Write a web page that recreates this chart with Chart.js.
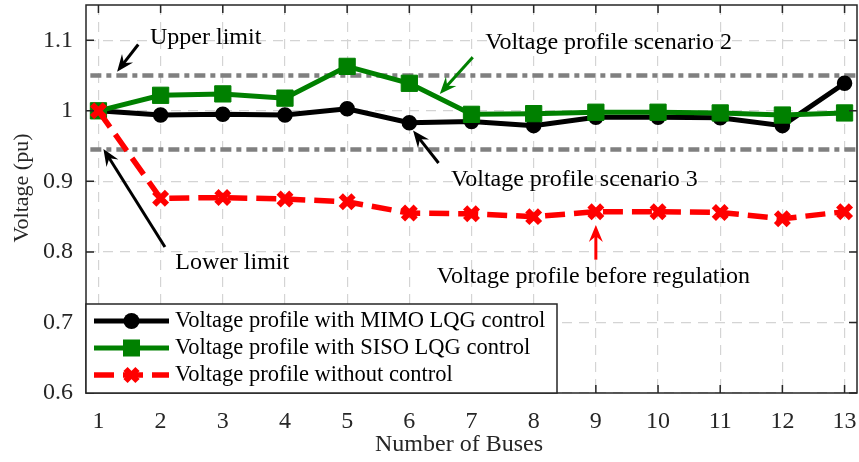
<!DOCTYPE html>
<html>
<head>
<meta charset="utf-8">
<script src="https://cdn.jsdelivr.net/npm/chart.js@4"></script>
<style>
html, body { margin: 0; padding: 0; background: #fff; }
#wrap { width: 859px; height: 462px; position: relative; }
</style>
</head>
<body>
<div id="wrap"><canvas id="line-chart"></canvas></div>
<script>
// values
var buses = [1, 2, 3, 4, 5, 6, 7, 8, 9, 10, 11, 12, 13];
var mimo = [1.0, 0.994, 0.995, 0.994, 1.003, 0.983, 0.985, 0.979, 0.991, 0.991, 0.990, 0.979, 1.039];
var siso = [1.0, 1.022, 1.024, 1.018, 1.063, 1.039, 0.995, 0.996, 0.998, 0.998, 0.997, 0.994, 0.997];
var noControl = [1.0, 0.876, 0.877, 0.875, 0.871, 0.855, 0.854, 0.850, 0.857, 0.857, 0.856, 0.847, 0.857];
var limitBuses = [0.87, 13.2];
var upperLimit = [1.05, 1.05];
var lowerLimit = [0.945, 0.945];

var xTicks = [1, 2, 3, 4, 5, 6, 7, 8, 9, 10, 11, 12, 13];
var yTicks = [0.6, 0.7, 0.8, 0.9, 1, 1.1];
var yTickLabels = ['0.6', '0.7', '0.8', '0.9', '1', '1.1'];

var legendNames = ['Voltage profile with MIMO LQG control', 'Voltage profile with SISO LQG control', 'Voltage profile without control'];

// text notes with arrows, in data units
var notes = [
    {text: 'Upper limit', at: [1.83, 1.103], from: [1.64, 1.094], to: [1.30, 1.0555], color: '#000'},
    {text: 'Voltage profile scenario 2', at: [7.22, 1.096], from: [7.02, 1.076], to: [6.49, 1.024], color: '#008000'},
    {text: 'Voltage profile scenario 3', at: [6.67, 0.902], from: [6.47, 0.926], to: [6.06, 0.972], color: '#000'},
    {text: 'Lower limit', at: [2.235, 0.784], from: [2.07, 0.807], to: [1.08, 0.946], color: '#000'},
    {text: 'Voltage profile before regulation', at: [6.44, 0.765], from: [9.0, 0.789], to: [9.0, 0.838], color: '#ff0000'}
];

var serif = '"Liberation Serif", "DejaVu Serif", serif';
var axisColor = '#262626';

function pts(xs, ys) {
    return xs.map(function (x, i) { return {x: x, y: ys[i]}; });
}

function arrow(ctx, x1, y1, x2, y2, color) {
    var a = Math.atan2(y2 - y1, x2 - x1), c = Math.cos(a), s = Math.sin(a);
    var L = 17, W = 7;
    ctx.save();
    ctx.strokeStyle = color; ctx.fillStyle = color; ctx.lineWidth = 3;
    ctx.beginPath();
    ctx.moveTo(x1, y1);
    ctx.lineTo(x2 - c * L * 0.6, y2 - s * L * 0.6);
    ctx.stroke();
    ctx.beginPath();
    ctx.moveTo(x2, y2);
    ctx.lineTo(x2 - c * L - s * W, y2 - s * L + c * W);
    ctx.lineTo(x2 - c * L * 0.65, y2 - s * L * 0.65);
    ctx.lineTo(x2 - c * L + s * W, y2 - s * L - c * W);
    ctx.closePath();
    ctx.fill();
    ctx.restore();
}

var extras = {
    id: 'extras',
    afterDraw: function (chart) {
        var ctx = chart.ctx, xs = chart.scales.x, ys = chart.scales.y, ca = chart.chartArea;
        ctx.save();
        // frame and inward ticks
        ctx.strokeStyle = axisColor; ctx.lineWidth = 1.5;
        ctx.strokeRect(ca.left, ca.top, ca.right - ca.left, ca.bottom - ca.top);
        ctx.beginPath();
        xTicks.forEach(function (t) {
            var px = xs.getPixelForValue(t);
            ctx.moveTo(px, ca.bottom); ctx.lineTo(px, ca.bottom - 8);
            ctx.moveTo(px, ca.top); ctx.lineTo(px, ca.top + 8);
        });
        yTicks.forEach(function (t) {
            var py = ys.getPixelForValue(t);
            ctx.moveTo(ca.left, py); ctx.lineTo(ca.left + 8, py);
            ctx.moveTo(ca.right, py); ctx.lineTo(ca.right - 8, py);
        });
        ctx.stroke();

        // axis titles
        ctx.fillStyle = axisColor;
        ctx.textAlign = 'center';
        ctx.textBaseline = 'middle';
        ctx.font = '24px ' + serif;
        ctx.fillText('Number of Buses', 459, 445);
        ctx.save();
        ctx.translate(22, 188);
        ctx.rotate(-Math.PI / 2);
        ctx.font = '22px ' + serif;
        ctx.fillText('Voltage (pu)', 0, 0);
        ctx.restore();

        // notes
        ctx.font = '24px ' + serif;
        ctx.textAlign = 'left';
        notes.forEach(function (n) {
            ctx.fillStyle = '#000';
            ctx.fillText(n.text, xs.getPixelForValue(n.at[0]), ys.getPixelForValue(n.at[1]));
            arrow(ctx, xs.getPixelForValue(n.from[0]), ys.getPixelForValue(n.from[1]),
                xs.getPixelForValue(n.to[0]), ys.getPixelForValue(n.to[1]), n.color);
        });

        // legend box in lower left
        var bx = ca.left, bw = 471, bh = 89, by = ca.bottom - bh;
        ctx.fillStyle = '#fff';
        ctx.fillRect(bx, by, bw, bh);
        ctx.strokeStyle = axisColor; ctx.lineWidth = 1.5;
        ctx.strokeRect(bx, by, bw, bh);
        var rows = [by + 17, by + 44, by + 71];
        var ds = chart.data.datasets;
        for (var i = 0; i < 3; i++) {
            var d = ds[i], y = rows[i], x0 = bx + 8, x1 = bx + 83, xm = (x0 + x1) / 2;
            ctx.strokeStyle = d.borderColor; ctx.lineWidth = d.borderWidth;
            ctx.setLineDash(d.borderDash || []);
            ctx.beginPath(); ctx.moveTo(x0, y); ctx.lineTo(x1, y); ctx.stroke();
            ctx.setLineDash([]);
            ctx.fillStyle = d.pointBackgroundColor;
            if (d.pointStyle === 'circle') {
                ctx.beginPath(); ctx.arc(xm, y, 8, 0, Math.PI * 2); ctx.fill();
            } else if (d.pointStyle === 'rect') {
                ctx.fillRect(xm - 8.5, y - 8.5, 17, 17);
            } else {
                ctx.lineWidth = 6;
                ctx.beginPath();
                ctx.moveTo(xm - 6, y - 6); ctx.lineTo(xm + 6, y + 6);
                ctx.moveTo(xm - 6, y + 6); ctx.lineTo(xm + 6, y - 6);
                ctx.stroke();
            }
            ctx.fillStyle = '#000';
            ctx.font = '22.5px ' + serif;
            ctx.fillText(legendNames[i], bx + 89, y);
        }
        ctx.restore();
    }
};

var ctx = document.getElementById('line-chart');

var lineChart = new Chart(ctx, {
    type: 'line',
    data: {
        datasets: [
            {
                label: legendNames[0],
                data: pts(buses, mimo),
                borderColor: '#000000',
                backgroundColor: '#000000',
                pointBackgroundColor: '#000000',
                pointBorderColor: '#000000',
                borderWidth: 5,
                pointStyle: 'circle',
                pointRadius: 7,
                pointBorderWidth: 1.5,
                order: 2
            },
            {
                label: legendNames[1],
                data: pts(buses, siso),
                borderColor: '#008000',
                backgroundColor: '#008000',
                pointBackgroundColor: '#008000',
                pointBorderColor: '#008000',
                borderWidth: 5,
                pointStyle: 'rect',
                pointRadius: 11.5,
                pointBorderWidth: 1,
                order: 1
            },
            {
                label: legendNames[2],
                data: pts(buses, noControl),
                borderColor: '#ff0000',
                backgroundColor: '#ff0000',
                pointBackgroundColor: '#ff0000',
                pointBorderColor: '#ff0000',
                borderWidth: 5.5,
                borderDash: [20, 9],
                pointStyle: 'crossRot',
                pointRadius: 9,
                pointBorderWidth: 6,
                order: 0
            },
            {
                label: 'Upper limit',
                data: pts(limitBuses, upperLimit),
                borderColor: '#808080',
                borderWidth: 4.5,
                borderDash: [11, 5, 5, 5],
                pointRadius: 0,
                order: 3
            },
            {
                label: 'Lower limit',
                data: pts(limitBuses, lowerLimit),
                borderColor: '#808080',
                borderWidth: 4.5,
                borderDash: [11, 5, 5, 5],
                pointRadius: 0,
                order: 3
            }
        ]
    },
    options: {
        responsive: true,
        maintainAspectRatio: false,
        animation: false,
        layout: { autoPadding: false, padding: { top: 5, right: 2, left: 0, bottom: 0 } },
        plugins: {
            legend: { display: false },
            tooltip: { enabled: false }
        },
        scales: {
            x: {
                type: 'linear',
                min: 0.8,
                max: 13.2,
                afterBuildTicks: function (s) { s.ticks = xTicks.map(function (v) { return {value: v}; }); },
                afterFit: function (s) { s.height = 69; s.paddingLeft = 0; s.paddingRight = 0; },
                grid: { color: '#d4d4d4', lineWidth: 1.2, drawTicks: false },
                border: { display: false, dash: [10, 7] },
                ticks: {
                    padding: 14,
                    color: axisColor,
                    font: { family: serif, size: 24 },
                    maxRotation: 0,
                    callback: function (v) { return String(v); }
                }
            },
            y: {
                min: 0.6,
                max: 1.15,
                afterBuildTicks: function (s) { s.ticks = yTicks.map(function (v) { return {value: v}; }); },
                afterFit: function (s) { s.width = 86; s.paddingTop = 0; s.paddingBottom = 0; },
                grid: { color: '#d4d4d4', lineWidth: 1.2, drawTicks: false },
                border: { display: false, dash: [10, 7] },
                ticks: {
                    padding: 13,
                    color: axisColor,
                    font: { family: serif, size: 24 },
                    callback: function (v) { var i = yTicks.indexOf(Math.round(v * 100) / 100); return i >= 0 ? yTickLabels[i] : ''; }
                }
            }
        }
    },
    plugins: [extras]
});
</script>
</body>
</html>
